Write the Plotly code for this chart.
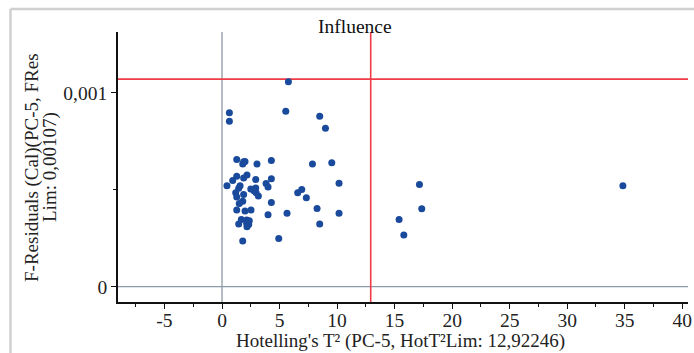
import plotly.graph_objects as go

# ---- data ----
hotelling_t2 = [5.77, 0.64, 0.64, 5.54, 8.49, 8.99, 1.28, 1.88, 2.00, 1.80, 3.04, 4.29, 7.86, 9.54,
                1.28, 1.88, 2.17, 0.93, 0.43, 2.93, 4.29, 3.83, 4.00, 10.17, 1.57, 1.45, 2.50, 2.93,
                2.78, 1.19, 1.88, 2.96, 3.16, 1.28, 6.93, 6.58, 7.33, 1.80, 1.50, 4.29, 1.28, 2.00,
                2.52, 8.26, 4.00, 5.65, 10.17, 1.68, 2.14, 2.37, 1.45, 2.14, 2.32, 2.17, 8.49, 4.93,
                1.80, 17.16, 17.36, 15.39, 15.80, 34.84]
f_residuals = [0.001056, 0.000897, 0.000853, 0.000904, 0.000879, 0.000817, 0.000656, 0.000644,
               0.000646, 0.000632, 0.000632, 0.000650, 0.000632, 0.000639, 0.000569, 0.000560,
               0.000576, 0.000547, 0.000520, 0.000552, 0.000557, 0.000532, 0.000514, 0.000533,
               0.000520, 0.000508, 0.000503, 0.000509, 0.000494, 0.000484, 0.000475, 0.000484,
               0.000468, 0.000463, 0.000501, 0.000484, 0.000458, 0.000440, 0.000429, 0.000434,
               0.000396, 0.000390, 0.000396, 0.000403, 0.000371, 0.000378, 0.000378, 0.000347,
               0.000344, 0.000340, 0.000323, 0.000327, 0.000320, 0.000309, 0.000323, 0.000248,
               0.000236, 0.000527, 0.000402, 0.000347, 0.000267, 0.000520]
hot_t2_limit = 12.92246
fres_limit = 0.00107
x_tick_vals = [-5, 0, 5, 10, 15, 20, 25, 30, 35, 40]
x_tick_text = ["-5", "0", "5", "10", "15", "20", "25", "30", "35", "40"]
y_tick_vals = [0, 0.001]
y_tick_text = ["0", "0,001"]
title_text = "Influence"
x_title = "Hotelling's T² (PC-5, HotT²Lim: 12,92246)"
y_title_lines = ["F-Residuals (Cal)(PC-5, FRes", "Lim: 0,00107)"]

X_RANGE = [-9.04, 40.5]
Y_RANGE = [-0.0000789, 0.001313]
FONT = "Liberation Serif, Times New Roman, serif"

fig = go.Figure()
fig.add_trace(go.Scatter(
    x=hotelling_t2, y=f_residuals, mode="markers",
    marker=dict(color="#1a4a9c", size=7, line=dict(width=0)),
    showlegend=False, hoverinfo="x+y"))

# zero reference lines (gray) and limit lines (red)
fig.add_shape(type="line", xref="x", yref="paper", x0=0, x1=0, y0=0, y1=1,
              line=dict(color="#8c99a6", width=1.3), layer="below")
fig.add_shape(type="line", xref="paper", yref="y", x0=0, x1=1, y0=0, y1=0,
              line=dict(color="#8c99a6", width=1.3), layer="below")
fig.add_shape(type="line", xref="x", yref="paper", x0=hot_t2_limit, x1=hot_t2_limit, y0=0, y1=1,
              line=dict(color="#ee3b45", width=1.6), layer="below")
fig.add_shape(type="line", xref="paper", yref="y", x0=0, x1=1, y0=fres_limit, y1=fres_limit,
              line=dict(color="#ee3b45", width=1.6), layer="below")

# outer light-gray frame (top and left edges)
fig.add_shape(type="line", xref="paper", yref="paper", x0=-0.1886, x1=1.02, y0=1.085, y1=1.085,
              line=dict(color="#d0d0d0", width=2.5))
fig.add_shape(type="line", xref="paper", yref="paper", x0=-0.1886, x1=-0.1886, y0=1.085, y1=-0.2,
              line=dict(color="#d0d0d0", width=2.5))

fig.add_annotation(text=title_text, xref="paper", yref="paper", x=0.416, y=1.022,
                   showarrow=False, font=dict(family=FONT, size=19.5, color="#111"),
                   xanchor="center", yanchor="middle")
fig.add_annotation(text=x_title, xref="paper", yref="paper", x=0.495, y=-0.146,
                   showarrow=False, font=dict(family=FONT, size=19, color="#222"),
                   xanchor="center", yanchor="middle")
for xp, line in zip([-0.1509, -0.1193], y_title_lines):
    fig.add_annotation(text=line, xref="paper", yref="paper", x=xp, y=0.5,
                       showarrow=False, textangle=-90,
                       font=dict(family=FONT, size=19, color="#222"),
                       xanchor="center", yanchor="middle")

fig.update_xaxes(range=X_RANGE, showgrid=False, zeroline=False,
                 showline=True, linecolor="#111", linewidth=1.8,
                 ticks="outside", ticklen=5, tickcolor="#111", tickwidth=1.3,
                 tickvals=x_tick_vals, ticktext=x_tick_text, ticklabelstandoff=-5,
                 minor=dict(dtick=2.5, tick0=0, ticks="outside", ticklen=3,
                            tickcolor="#111", tickwidth=1.3, showgrid=False),
                 tickfont=dict(family=FONT, size=19.5, color="#222"))
fig.update_yaxes(range=Y_RANGE, showgrid=False, zeroline=False,
                 showline=True, linecolor="#111", linewidth=1.8,
                 ticks="outside", ticklen=5, tickcolor="#111", tickwidth=1.3,
                 tickvals=y_tick_vals, ticktext=y_tick_text,
                 minor=dict(dtick=0.0005, tick0=0, ticks="outside", ticklen=3,
                            tickcolor="#111", tickwidth=1.3, showgrid=False),
                 tickfont=dict(family=FONT, size=19.5, color="#222"))

fig.update_layout(width=694, height=353,
                  margin=dict(l=118, r=6, t=32, b=51, autoexpand=False),
                  paper_bgcolor="white", plot_bgcolor="white",
                  separators=", ")

fig.write_html("out.html")
